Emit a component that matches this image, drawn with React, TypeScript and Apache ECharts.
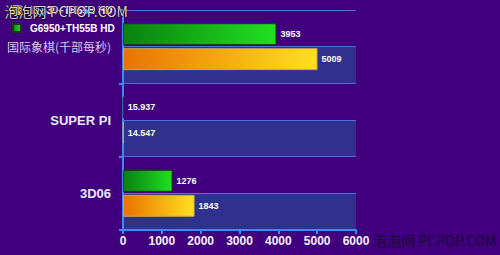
import React, { useEffect, useRef } from "react";
import * as echarts from "echarts";

const categories = ["国际象棋(千部每秒)", "SUPER PI", "3D06"];
const halfBands = ["a1", "a2", "b1", "b2", "c1", "c2"];
const seriesNames = ["i3 530+TH55B HD", "G6950+TH55B HD"];
const greenValues = [3953, 15.937, 1276];
const orangeValues = [5009, 14.547, 1843];
const xTicks = [0, 6000, 1000];

const FONT = 'Arial, "Liberation Sans", "Noto Sans CJK SC", sans-serif';
const CJK = '"Noto Sans CJK SC", sans-serif';

export default function App() {
  const ref = useRef<HTMLDivElement>(null);
  useEffect(() => {
    if (!ref.current) return;
    const chart = echarts.init(ref.current, undefined, { renderer: "svg" });
    const axisBlue = "#3a8cf0";
    const lineBlue = "#4f6fe0";
    chart.setOption({
      animation: false,
      backgroundColor: "#40007e",
      grid: { left: 123, right: 144, top: 10, bottom: 25, containLabel: false },
      legend: {
        orient: "vertical",
        left: 12,
        top: 5,
        padding: 0,
        itemWidth: 8,
        itemHeight: 8,
        itemGap: 8,
        icon: "rect",
        data: [seriesNames[0], seriesNames[1]],
        textStyle: {
          color: "#ffffff",
          fontFamily: FONT,
          fontWeight: "bold",
          fontSize: 10,
          padding: [0, 0, 0, 4],
        },
      },
      xAxis: {
        type: "value",
        min: xTicks[0],
        max: xTicks[1],
        interval: xTicks[2],
        axisLine: { show: true, lineStyle: { color: axisBlue, width: 2 } },
        axisTick: { show: true, length: 4, lineStyle: { color: axisBlue, width: 2 } },
        axisLabel: {
          color: "#f4f0ff",
          fontFamily: FONT,
          fontWeight: "bold",
          fontSize: 12,
          margin: 5,
          formatter: (v: number) => String(v),
        },
        splitLine: { show: false },
      },
      yAxis: [
        {
          type: "category",
          data: categories,
          inverse: true,
          axisLine: { show: true, lineStyle: { color: axisBlue, width: 2 } },
          axisTick: { show: true, length: 4, lineStyle: { color: axisBlue, width: 2 } },
          axisLabel: {
            margin: 12,
            formatter: (v: string) => (v === categories[0] ? "{c|" + v + "}" : "{e|" + v + "}"),
            rich: {
              c: { fontFamily: CJK, fontSize: 12, color: "#d8c8f2", fontWeight: "normal" },
              e: { fontFamily: FONT, fontSize: 13, color: "#ece6ff", fontWeight: "bold" },
            },
          },
          splitLine: { show: false },
          z: 5,
        },
        {
          type: "category",
          data: halfBands,
          inverse: true,
          position: "left",
          axisLine: { show: false },
          axisTick: { show: false },
          axisLabel: { show: false },
          splitLine: { show: true, lineStyle: { color: lineBlue, width: 1 } },
          splitArea: { show: true, areaStyle: { color: ["rgba(0,0,0,0)", "#30318f"] } },
        },
      ],
      series: [
        {
          name: seriesNames[1],
          type: "bar",
          yAxisIndex: 0,
          data: greenValues,
          barCategoryGap: "36%",
          barGap: "14%",
          itemStyle: {
            color: new echarts.graphic.LinearGradient(0, 0, 1, 0, [
              { offset: 0, color: "#0a8010" },
              { offset: 1, color: "#20e020" },
            ]),
            borderColor: "#1c3a10",
            borderWidth: 1,
          },
          label: {
            show: true,
            position: "right",
            distance: 4,
            color: "#ffffff",
            fontFamily: FONT,
            fontWeight: "bold",
            fontSize: 9,
          },
          z: 10,
        },
        {
          name: seriesNames[0],
          type: "bar",
          yAxisIndex: 0,
          data: orangeValues,
          barCategoryGap: "36%",
          barGap: "14%",
          itemStyle: {
            color: new echarts.graphic.LinearGradient(0, 0, 1, 0, [
              { offset: 0, color: "#e87200" },
              { offset: 1, color: "#ffe020" },
            ]),
            borderColor: "#c8a850",
            borderWidth: 1,
          },
          label: {
            show: true,
            position: "right",
            distance: 4,
            color: "#ffffff",
            fontFamily: FONT,
            fontWeight: "bold",
            fontSize: 9,
          },
          z: 10,
        },
      ],
      graphic: [
        {
          type: "text",
          left: 4,
          top: 3,
          z: 100,
          style: {
            text: "泡泡网 PCPOP.COM",
            fill: "rgba(255,255,255,0.85)",
            stroke: "#000000",
            lineWidth: 1,
            font: '14px "Noto Sans CJK SC", sans-serif',
          },
        },
        {
          type: "text",
          left: 373,
          top: 233,
          z: 100,
          style: {
            text: "泡泡网 PCPOP.COM",
            fill: "#1a0a3a",
            font: '14px "Noto Sans CJK SC", sans-serif',
          },
        },
      ],
    });
    return () => chart.dispose();
  }, []);
  return (
    <div
      ref={ref}
      style={{ position: "fixed", left: 0, top: 0, width: 500, height: 255 }}
    />
  );
}
